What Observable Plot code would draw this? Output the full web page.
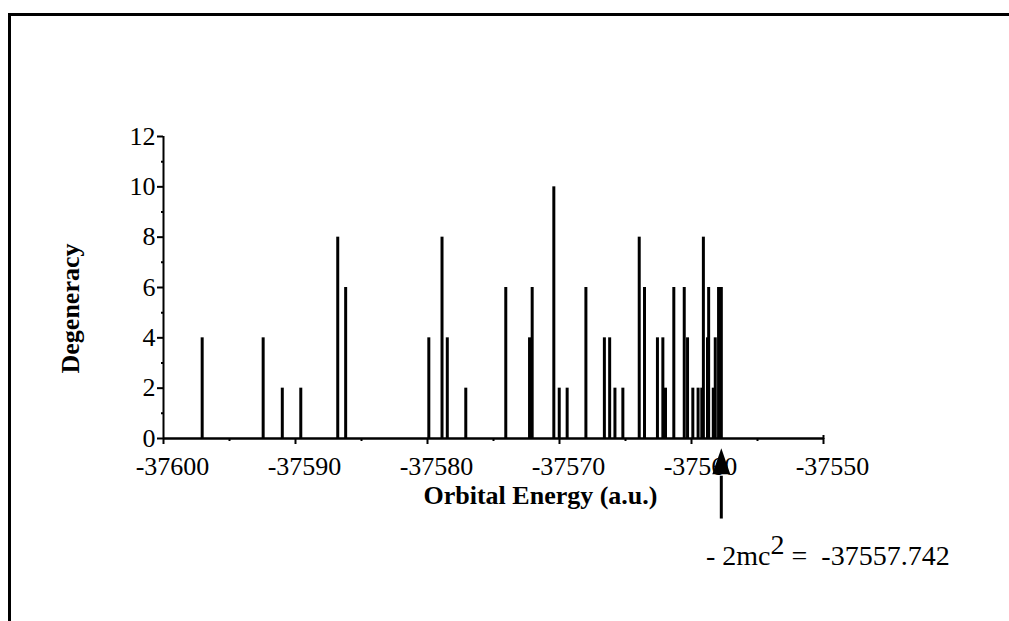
<!DOCTYPE html>
<html>
<head>
<meta charset="utf-8">
<script src="https://cdn.jsdelivr.net/npm/d3@7"></script>
<script src="https://cdn.jsdelivr.net/npm/@observablehq/plot@0.6"></script>
<style>
html, body { margin: 0; padding: 0; background: #fff; }
#wrap { position: relative; width: 1009px; height: 621px; overflow: hidden; font-family: "Liberation Serif", "Times New Roman", serif; color: #000; }
#wrap svg { position: absolute; left: 0; top: 0; }
#frame { position: absolute; left: 8px; top: 13px; width: 1100px; height: 700px; border-left: 3px solid #000; border-top: 3px solid #000; }
#note { position: absolute; left: 706px; top: 542px; font-size: 28px; line-height: 28px; white-space: pre; }
#note .sup { position: relative; top: -11px; }
</style>
</head>
<body>
<div id="wrap">
  <div id="frame"></div>
  <div id="chart"></div>
  <div id="note"></div>
</div>
<script>
// Orbital energies (a.u.) and their degeneracies
const energy = [
  -37597.07, -37592.45, -37591.0, -37589.6, -37586.8, -37586.2,
  -37579.9, -37578.9, -37578.5, -37577.1,
  -37574.07, -37572.27, -37572.07, -37570.43, -37570.02, -37569.42,
  -37568.0, -37566.6, -37566.2, -37565.8, -37565.2,
  -37563.96, -37563.56, -37562.58, -37562.17, -37561.97, -37561.34,
  -37560.55, -37560.3, -37559.9, -37559.5, -37559.22, -37559.1,
  -37558.79, -37558.7, -37558.35, -37558.2, -37557.95, -37557.74
];
const degeneracy = [
  4, 4, 2, 2, 8, 6,
  4, 8, 4, 2,
  6, 4, 6, 10, 2, 2,
  6, 4, 4, 2, 2,
  8, 6, 4, 4, 2, 6,
  6, 4, 2, 2, 2, 8,
  4, 6, 2, 4, 6, 6
];
const xTicks = [-37600, -37590, -37580, -37570, -37560, -37550];
const xMinor = [-37595, -37585, -37575, -37565, -37555];
const yTicks = [0, 2, 4, 6, 8, 10, 12];
const yMinor = [1, 3, 5, 7, 9, 11];
const threshold = -37557.742;
const xLabel = "Orbital Energy (a.u.)";
const yLabel = "Degeneracy";

const bars = energy.map((e, i) => ({e, d: degeneracy[i]}));

const triangle = {
  draw(ctx) {
    ctx.moveTo(0, -13);
    ctx.lineTo(9, 13);
    ctx.lineTo(-9, 13);
    ctx.closePath();
  }
};

const chart = Plot.plot({
  width: 1009,
  height: 621,
  marginLeft: 163,
  marginRight: 186,
  marginTop: 136,
  marginBottom: 183,
  x: {domain: [-37600, -37550]},
  y: {domain: [0, 12]},
  style: {fontFamily: '"Liberation Serif", "Times New Roman", serif', fontSize: "26px", color: "#000", background: "transparent", overflow: "visible"},
  marks: [
    Plot.ruleX(bars, {x: "e", y1: 0, y2: "d", stroke: "#000", strokeWidth: 3}),
    Plot.ruleY([0], {x1: -37600, x2: -37550, stroke: "#000", strokeWidth: 2.5}),
    Plot.ruleX([-37600], {y1: 0, y2: 12, stroke: "#000", strokeWidth: 2}),
    Plot.axisX({ticks: xTicks, tickSize: 6, strokeWidth: 2, tickFormat: () => "", label: null}),
    Plot.axisX({ticks: [-37550], anchor: "top", frameAnchor: "bottom", tickSize: 4, strokeWidth: 2, tickFormat: () => "", label: null}),
    Plot.axisX({ticks: xMinor, tickSize: 3, strokeWidth: 2, tickFormat: () => "", label: null}),
    Plot.axisX({ticks: xTicks, tickSize: 0, tickPadding: 18, dx: 9, tickFormat: d => String(d), fontSize: 26, label: null}),
    Plot.axisY({ticks: yTicks, tickSize: 6, tickPadding: 2, strokeWidth: 2, tickFormat: d => String(d), fontSize: 26, label: null}),
    Plot.axisY({ticks: yMinor, tickSize: 2, strokeWidth: 2, tickFormat: () => "", label: null}),
    Plot.text([yLabel], {text: d => d, frameAnchor: "left", textAnchor: "middle", rotate: -90, dx: -93, dy: 21, fontWeight: "bold", fontSize: 26}),
    Plot.text([xLabel], {text: d => d, frameAnchor: "bottom", textAnchor: "middle", lineAnchor: "middle", dx: 47, dy: 57, fontWeight: "bold", fontSize: 26}),
    Plot.ruleX([threshold], {y1: -1.5, y2: -3.2, stroke: "#000", strokeWidth: 3}),
    Plot.dot([threshold], {x: d => d, y: -0.9, symbol: triangle, fill: "#000", stroke: "none", r: 10})
  ]
});
document.getElementById("chart").appendChild(chart);

const note = document.getElementById("note");
note.innerHTML = '- 2mc<span class="sup">2</span> =  ' + String(threshold);
</script>
</body>
</html>
